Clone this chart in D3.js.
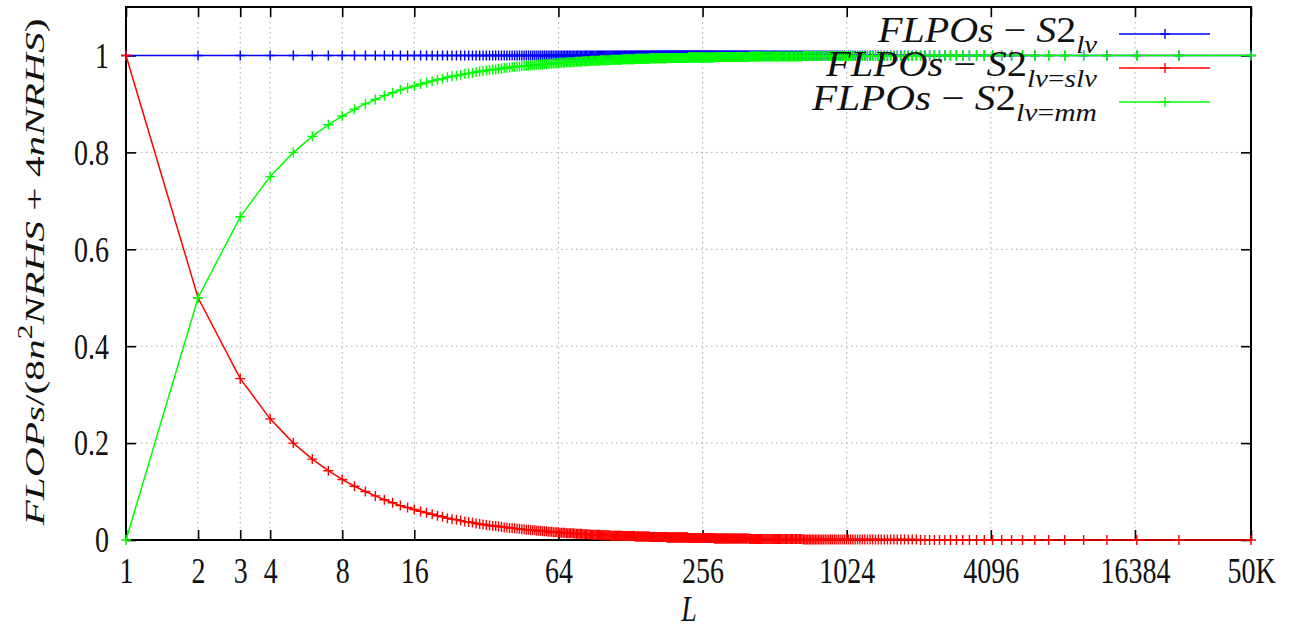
<!DOCTYPE html>
<html><head><meta charset="utf-8">
<script src="https://cdn.jsdelivr.net/npm/d3@7"></script>
<style>
html,body{margin:0;padding:0;background:#fff;}
svg{display:block;}
</style></head><body>
<svg id="chart" width="1296" height="630"></svg>
<script>
// Problem sizes L (sample points shared by all three curves)
const lValues = [
1,2,3,4,5,6,7,8,9,10,11,12,13,14,15,16,17,18,19,20,
21,22,23,24,25,26,27,28,29,30,31,32,33,34,35,36,37,38,39,40,
41,42,43,44,45,46,47,48,49,50,51,52,53,54,55,56,57,58,59,60,
61,62,63,64,65,66,67,68,69,70,71,72,73,74,75,76,77,78,79,80,
81,82,83,84,85,86,87,88,89,90,91,92,93,94,95,96,97,98,99,100,
101,102,103,104,105,106,107,108,109,110,111,112,113,114,115,116,117,118,119,120,
121,122,123,124,125,126,127,128,129,130,131,132,133,134,135,136,137,138,139,140,
141,142,143,144,145,146,147,148,149,150,151,152,153,154,155,156,157,158,159,160,
161,162,163,164,165,166,167,168,169,170,171,172,173,174,175,176,177,178,179,180,
181,182,183,184,185,186,187,188,189,190,191,192,193,194,195,196,197,198,199,200,
201,202,203,204,205,206,207,208,209,210,211,212,213,214,215,216,217,218,219,220,
221,222,223,
224,225,226,227,228,229,230,231,232,233,234,235,236,
238,239,240,241,242,243,245,246,247,248,
250,251,252,253,255,256,257,259,260,261,
263,264,265,267,268,270,271,273,274,276,
277,279,280,282,284,285,287,289,290,292,
294,295,297,299,301,303,304,306,308,310,
312,314,316,318,320,322,324,326,328,331,
333,335,337,340,342,344,347,349,352,354,
357,359,362,364,367,370,373,375,378,381,
384,387,390,393,396,400,403,406,409,413,
416,420,423,427,431,434,438,442,446,450,
454,458,462,467,471,476,480,485,490,495,
500,505,510,515,520,526,531,537,543,549,
555,561,568,574,581,588,595,602,609,617,
625,632,641,649,657,666,675,684,694,704,
714,724,735,746,757,769,781,793,806,819,
833,847,862,877,892,909,925,943,961,980,
1000,1020,1041,1063,1086,1111,1136,1162,1190,1219,
1250,1282,1315,1351,1388,1428,1470,1515,1562,1612,
1666,1724,1785,1851,1923,2000,2083,2173,2272,2380,
2500,2631,2777,2941,3125,3333,3571,3846,4166,4545,
5000,5555,6250,7142,8333,10000,12500,16666,25000,50000
];

// FLOPs ratio, S2 with lv
const lvRatio = [
1,1,1,1,1,1,1,1,1,1,1,1,1,1,1,1,1,1,1,1,
1,1,1,1,1,1,1,1,1,1,1,1,1,1,1,1,1,1,1,1,
1,1,1,1,1,1,1,1,1,1,1,1,1,1,1,1,1,1,1,1,
1,1,1,1,1,1,1,1,1,1,1,1,1,1,1,1,1,1,1,1,
1,1,1,1,1,1,1,1,1,1,1,1,1,1,1,1,1,1,1,1,
1,1,1,1,1,1,1,1,1,1,1,1,1,1,1,1,1,1,1,1,
1,1,1,1,1,1,1,1,1,1,1,1,1,1,1,1,1,1,1,1,
1,1,1,1,1,1,1,1,1,1,1,1,1,1,1,1,1,1,1,1,
1,1,1,1,1,1,1,1,1,1,1,1,1,1,1,1,1,1,1,1,
1,1,1,1,1,1,1,1,1,1,1,1,1,1,1,1,1,1,1,1,
1,1,1,1,1,1,1,1,1,1,1,1,1,1,1,1,1,1,1,1,
1,1,1,
1,1,1,1,1,1,1,1,1,1,1,1,1,
1,1,1,1,1,1,1,1,1,1,
1,1,1,1,1,1,1,1,1,1,
1,1,1,1,1,1,1,1,1,1,
1,1,1,1,1,1,1,1,1,1,
1,1,1,1,1,1,1,1,1,1,
1,1,1,1,1,1,1,1,1,1,
1,1,1,1,1,1,1,1,1,1,
1,1,1,1,1,1,1,1,1,1,
1,1,1,1,1,1,1,1,1,1,
1,1,1,1,1,1,1,1,1,1,
1,1,1,1,1,1,1,1,1,1,
1,1,1,1,1,1,1,1,1,1,
1,1,1,1,1,1,1,1,1,1,
1,1,1,1,1,1,1,1,1,1,
1,1,1,1,1,1,1,1,1,1,
1,1,1,1,1,1,1,1,1,1,
1,1,1,1,1,1,1,1,1,1,
1,1,1,1,1,1,1,1,1,1,
1,1,1,1,1,1,1,1,1,1,
1,1,1,1,1,1,1,1,1,1,
1,1,1,1,1,1,1,1,1,1
];

// FLOPs ratio, S2 with lv = slv
const slvRatio = [
1,.5,.333,.25,.2,.167,.143,.125,.111,.1,
.091,.083,.077,.071,.067,.063,.059,.056,.053,.05,
.048,.045,.043,.042,.04,.038,.037,.036,.034,.033,
.032,.031,.03,.029,.029,.028,.027,.026,.026,.025,
.024,.024,.023,.023,.022,.022,.021,.021,.02,.02,
.02,.019,.019,.019,.018,.018,.018,.017,.017,.017,
.016,.016,.016,.016,.015,.015,.015,.015,.014,.014,
.014,.014,.014,.014,.013,.013,.013,.013,.013,.013,
.012,.012,.012,.012,.012,.012,.011,.011,.011,.011,
.011,.011,.011,.011,.011,.01,.01,.01,.01,.01,
.01,.01,.01,.01,.01,.009,.009,.009,.009,.009,
.009,.009,.009,.009,.009,.009,.009,.008,.008,.008,
.008,.008,.008,.008,.008,.008,.008,.008,.008,.008,
.008,.008,.008,.007,.007,.007,.007,.007,.007,.007,
.007,.007,.007,.007,.007,.007,.007,.007,.007,.007,
.007,.007,.007,.006,.006,.006,.006,.006,.006,.006,
.006,.006,.006,.006,.006,.006,.006,.006,.006,.006,
.006,.006,.006,.006,.006,.006,.006,.006,.006,.006,
.006,.005,.005,.005,.005,.005,.005,.005,.005,.005,
.005,.005,.005,.005,.005,.005,.005,.005,.005,.005,
.005,.005,.005,.005,.005,.005,.005,.005,.005,.005,
.005,.005,.005,.005,.005,.005,.005,.005,.005,.005,
.005,.005,.004,
.004,.004,.004,.004,.004,.004,.004,.004,.004,.004,.004,.004,.004,
.004,.004,.004,.004,.004,.004,.004,.004,.004,.004,
.004,.004,.004,.004,.004,.004,.004,.004,.004,.004,
.004,.004,.004,.004,.004,.004,.004,.004,.004,.004,
.004,.004,.004,.004,.004,.004,.003,.003,.003,.003,
.003,.003,.003,.003,.003,.003,.003,.003,.003,.003,
.003,.003,.003,.003,.003,.003,.003,.003,.003,.003,
.003,.003,.003,.003,.003,.003,.003,.003,.003,.003,
.003,.003,.003,.003,.003,.003,.003,.003,.003,.003,
.003,.003,.003,.003,.003,.003,.002,.002,.002,.002,
.002,.002,.002,.002,.002,.002,.002,.002,.002,.002,
.002,.002,.002,.002,.002,.002,.002,.002,.002,.002,
.002,.002,.002,.002,.002,.002,.002,.002,.002,.002,
.002,.002,.002,.002,.002,.002,.002,.002,.002,.002,
.002,.002,.002,.002,.002,.002,.001,.001,.001,.001,
.001,.001,.001,.001,.001,.001,.001,.001,.001,.001,
.001,.001,.001,.001,.001,.001,.001,.001,.001,.001,
.001,.001,.001,.001,.001,.001,.001,.001,.001,.001,
.001,.001,.001,.001,.001,.001,.001,.001,.001,.001,
.001,.001,.001,.001,.001,.001,0,0,0,0,
0,0,0,0,0,0,0,0,0,0,
0,0,0,0,0,0,0,0,0,0
];

// FLOPs ratio, S2 with lv = mm
const mmRatio = [
0,.5,.667,.75,.8,.833,.857,.875,.889,.9,
.909,.917,.923,.929,.933,.937,.941,.944,.947,.95,
.952,.955,.957,.958,.96,.962,.963,.964,.966,.967,
.968,.969,.97,.971,.971,.972,.973,.974,.974,.975,
.976,.976,.977,.977,.978,.978,.979,.979,.98,.98,
.98,.981,.981,.981,.982,.982,.982,.983,.983,.983,
.984,.984,.984,.984,.985,.985,.985,.985,.986,.986,
.986,.986,.986,.986,.987,.987,.987,.987,.987,.987,
.988,.988,.988,.988,.988,.988,.989,.989,.989,.989,
.989,.989,.989,.989,.989,.99,.99,.99,.99,.99,
.99,.99,.99,.99,.99,.991,.991,.991,.991,.991,
.991,.991,.991,.991,.991,.991,.991,.992,.992,.992,
.992,.992,.992,.992,.992,.992,.992,.992,.992,.992,
.992,.992,.992,.993,.993,.993,.993,.993,.993,.993,
.993,.993,.993,.993,.993,.993,.993,.993,.993,.993,
.993,.993,.993,.994,.994,.994,.994,.994,.994,.994,
.994,.994,.994,.994,.994,.994,.994,.994,.994,.994,
.994,.994,.994,.994,.994,.994,.994,.994,.994,.994,
.994,.995,.995,.995,.995,.995,.995,.995,.995,.995,
.995,.995,.995,.995,.995,.995,.995,.995,.995,.995,
.995,.995,.995,.995,.995,.995,.995,.995,.995,.995,
.995,.995,.995,.995,.995,.995,.995,.995,.995,.995,
.995,.995,.996,
.996,.996,.996,.996,.996,.996,.996,.996,.996,.996,.996,.996,.996,
.996,.996,.996,.996,.996,.996,.996,.996,.996,.996,
.996,.996,.996,.996,.996,.996,.996,.996,.996,.996,
.996,.996,.996,.996,.996,.996,.996,.996,.996,.996,
.996,.996,.996,.996,.996,.996,.997,.997,.997,.997,
.997,.997,.997,.997,.997,.997,.997,.997,.997,.997,
.997,.997,.997,.997,.997,.997,.997,.997,.997,.997,
.997,.997,.997,.997,.997,.997,.997,.997,.997,.997,
.997,.997,.997,.997,.997,.997,.997,.997,.997,.997,
.997,.997,.997,.997,.997,.997,.998,.998,.998,.998,
.998,.998,.998,.998,.998,.998,.998,.998,.998,.998,
.998,.998,.998,.998,.998,.998,.998,.998,.998,.998,
.998,.998,.998,.998,.998,.998,.998,.998,.998,.998,
.998,.998,.998,.998,.998,.998,.998,.998,.998,.998,
.998,.998,.998,.998,.998,.998,.999,.999,.999,.999,
.999,.999,.999,.999,.999,.999,.999,.999,.999,.999,
.999,.999,.999,.999,.999,.999,.999,.999,.999,.999,
.999,.999,.999,.999,.999,.999,.999,.999,.999,.999,
.999,.999,.999,.999,.999,.999,.999,.999,.999,.999,
.999,.999,.999,.999,.999,.999,1,1,1,1,
1,1,1,1,1,1,1,1,1,1,
1,1,1,1,1,1,1,1,1,1
];

const seriesSubscripts = [["lv"], ["lv", "=", "slv"], ["lv", "=", "mm"]];
const seriesColors = ["#0000ff", "#ff0000", "#00ff00"];

const xTickValues = [1, 2, 3, 4, 8, 16, 64, 256, 1024, 4096, 16384, 50000];
const xTickLabels = ["1", "2", "3", "4", "8", "16", "64", "256", "1024", "4096", "16384", "50K"];
const yTickValues = [0, 0.2, 0.4, 0.6, 0.8, 1];
const yTickLabels = ["0", "0.2", "0.4", "0.6", "0.8", "1"];

const box = {left: 126, right: 1251, top: 7, bottom: 540};
const SERIF = '"Liberation Serif"';
const FS = 28;          // base font size
const STRETCH = 1.28;   // vertical stretch of glyphs
const svg = d3.select("#chart").style("font-family", SERIF);

const x = d3.scaleLog().domain([1, 50000]).range([box.left, box.right]);
const y = d3.scaleLinear().domain([0, 1.1]).range([box.bottom, box.top]);

// dotted grid
const grid = svg.append("g")
  .attr("stroke", "#a8a8a8").attr("stroke-width", 1).attr("stroke-dasharray", "1.5,3.5");
grid.selectAll("line.gx").data(xTickValues.slice(1, -1)).join("line")
  .attr("x1", d => x(d)).attr("x2", d => x(d)).attr("y1", box.top).attr("y2", box.bottom);
grid.selectAll("line.gy").data(yTickValues.slice(1)).join("line")
  .attr("x1", box.left).attr("x2", box.right).attr("y1", d => y(d)).attr("y2", d => y(d));

// axes with inward ticks
const fmtX = (d) => xTickLabels[xTickValues.indexOf(d)];
const fmtY = (d) => yTickLabels[yTickValues.indexOf(d)];
function styleAxis(g) {
  g.attr("font-family", null).attr("font-size", null);
  g.select(".domain").remove();
  g.selectAll(".tick line").attr("stroke", "#000").attr("stroke-width", 1.6);
}
function serifText(sel, size) {
  sel.style("font-family", SERIF).style("font-size", size + "px").attr("fill", "#111");
}
const gx = svg.append("g").attr("transform", `translate(0,${box.bottom})`)
  .call(d3.axisBottom(x).tickValues(xTickValues).tickFormat(fmtX).tickSizeInner(-10).tickSizeOuter(0))
  .call(styleAxis);
gx.selectAll(".tick text").call(serifText, FS)
  .attr("y", 43 / STRETCH).attr("dy", 0)
  .attr("transform", `scale(1,${STRETCH})`);
const gy = svg.append("g").attr("transform", `translate(${box.left},0)`)
  .call(d3.axisLeft(y).tickValues(yTickValues).tickFormat(fmtY).tickSizeInner(-10).tickSizeOuter(0))
  .call(styleAxis);
gy.selectAll(".tick text").call(serifText, FS)
  .attr("x", -17).attr("dy", "0.33em")
  .attr("transform", `scale(1,${STRETCH})`);
svg.append("g").attr("transform", `translate(0,${box.top})`)
  .call(d3.axisTop(x).tickValues(xTickValues).tickFormat("").tickSizeInner(-10).tickSizeOuter(0))
  .call(styleAxis);
svg.append("g").attr("transform", `translate(${box.right},0)`)
  .call(d3.axisRight(y).tickValues(yTickValues).tickFormat("").tickSizeInner(-10).tickSizeOuter(0))
  .call(styleAxis);

// border
svg.append("rect")
  .attr("x", box.left).attr("y", box.top)
  .attr("width", box.right - box.left).attr("height", box.bottom - box.top)
  .attr("fill", "none").attr("stroke", "#000").attr("stroke-width", 2);

// math-style text builder: italic letters, upright digits/operators
function mathText(sel, runs, fs) {
  sel.call(serifText, fs);
  let shift = 0;
  runs.forEach(r => {
    const size = (r.sub || r.sup) ? fs * 0.72 : fs;
    const t = sel.append("tspan").text(r.t)
      .style("font-family", SERIF)
      .style("font-style", r.it ? "italic" : "normal")
      .style("font-size", size + "px");
    let target = 0;
    if (r.sub) target = fs * 0.3;
    if (r.sup) target = -fs * 0.42;
    if (target !== shift) { t.attr("dy", target - shift); shift = target; }
  });
}

// series
const pts = lValues.map((L, i) => i);
const plusPath = "M-5,0H5M0,-5V5";
const allSeries = [lvRatio, slvRatio, mmRatio];
allSeries.forEach((vals, si) => {
  const g = svg.append("g");
  const line = d3.line().x(i => x(lValues[i])).y(i => y(vals[i]));
  g.append("path").attr("d", line(pts)).attr("fill", "none")
    .attr("stroke", seriesColors[si]).attr("stroke-width", 1.5);
  g.selectAll("path.mk").data(pts).join("path")
    .attr("class", "mk")
    .attr("transform", i => `translate(${x(lValues[i])},${y(vals[i])})`)
    .attr("d", plusPath).attr("stroke", seriesColors[si]).attr("stroke-width", 1.4);
});

// legend
const keyRows = [34, 68, 102];
const keyTextWidths = [219, 271, 285];
seriesSubscripts.forEach((sub, si) => {
  const ky = keyRows[si];
  const g = svg.append("g");
  g.append("line").attr("x1", 1119).attr("x2", 1210).attr("y1", ky).attr("y2", ky)
    .attr("stroke", seriesColors[si]).attr("stroke-width", 1.5);
  g.append("path").attr("d", plusPath).attr("transform", `translate(1165,${ky})`)
    .attr("stroke", seriesColors[si]).attr("stroke-width", 1.4);
  const tg = g.append("g").attr("transform", `translate(1097,${ky + 8}) scale(1,${STRETCH})`);
  const txt = tg.append("text").attr("text-anchor", "end")
    .attr("textLength", keyTextWidths[si]).attr("lengthAdjust", "spacingAndGlyphs");
  const runs = [
    {t: "FLPOs", it: true}, {t: " \u2212 ", it: false}, {t: "S", it: true}, {t: "2", it: false}
  ];
  sub.forEach(s => runs.push({t: s, it: s !== "=", sub: true}));
  mathText(txt, runs, FS);
});

// y-axis title
const yt = svg.append("g").attr("transform", `translate(44,272) scale(1,${STRETCH}) rotate(-90)`)
  .append("text").attr("text-anchor", "middle")
  .attr("textLength", 396).attr("lengthAdjust", "spacingAndGlyphs");
mathText(yt, [
  {t: "FLOPs", it: true}, {t: "/(8", it: false}, {t: "n", it: true},
  {t: "2", it: false, sup: true}, {t: "NRHS", it: true}, {t: " + 4", it: false},
  {t: "nNRHS", it: true}, {t: ")", it: false}
], FS);

// x-axis title
const xt = svg.append("g").attr("transform", `translate(689,621) scale(1,${STRETCH})`)
  .append("text").attr("text-anchor", "middle");
mathText(xt, [{t: "L", it: true}], FS);
</script>
</body></html>
